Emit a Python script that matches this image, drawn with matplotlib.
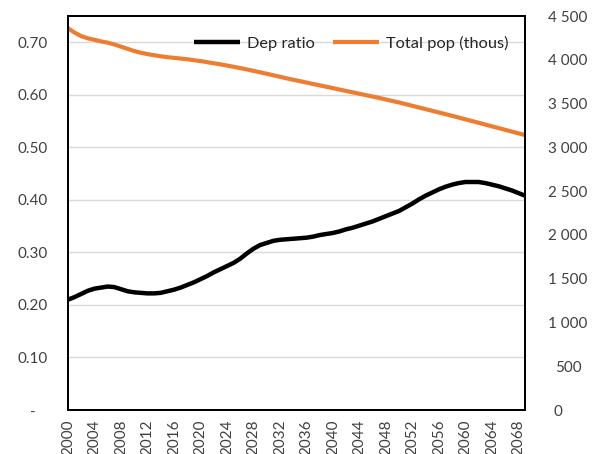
import matplotlib
matplotlib.use("Agg")
import matplotlib.pyplot as plt
from matplotlib.ticker import FixedLocator

plt.rcParams['font.family'] = ['Lato', 'DejaVu Sans']

years = list(range(2000, 2070))

dep_ratio = [
    0.210, 0.215, 0.221, 0.227, 0.231, 0.233, 0.235, 0.234, 0.230, 0.226,
    0.224, 0.223, 0.222, 0.222, 0.223, 0.226, 0.229, 0.233, 0.238, 0.243,
    0.249, 0.255, 0.262, 0.268, 0.274, 0.280, 0.288, 0.298, 0.307, 0.314,
    0.318, 0.322, 0.324, 0.325, 0.326, 0.327, 0.328, 0.330, 0.333, 0.335,
    0.337, 0.340, 0.344, 0.347, 0.351, 0.355, 0.359, 0.364, 0.369, 0.374,
    0.379, 0.386, 0.393, 0.401, 0.408, 0.414, 0.420, 0.425, 0.429, 0.432,
    0.434, 0.434, 0.434, 0.432, 0.429, 0.426, 0.422, 0.418, 0.413, 0.408,
]

total_pop = [
    4360, 4310, 4270, 4245, 4228, 4210, 4195, 4175, 4150, 4125,
    4100, 4080, 4065, 4052, 4040, 4030, 4022, 4014, 4006, 3995,
    3985, 3973, 3960, 3948, 3934, 3920, 3905, 3890, 3873, 3857,
    3840, 3823, 3806, 3788, 3772, 3756, 3740, 3724, 3708, 3692,
    3676, 3660, 3644, 3628, 3612, 3596, 3580, 3564, 3546, 3529,
    3512, 3493, 3474, 3455, 3436, 3417, 3398, 3379, 3360, 3340,
    3320, 3300, 3280, 3260, 3240, 3220, 3200, 3180, 3160, 3140,
]

left_ticks = [0, 0.1, 0.2, 0.3, 0.4, 0.5, 0.6, 0.7]
left_labels = ['-   ', '0.10', '0.20', '0.30', '0.40', '0.50', '0.60', '0.70']
right_ticks = [0, 500, 1000, 1500, 2000, 2500, 3000, 3500, 4000, 4500]
right_labels = ['0     ', '500', '1 000', '1 500', '2 000', '2 500', '3 000', '3 500', '4 000', '4 500']
x_ticks = list(range(2000, 2070, 4))

fig = plt.figure(figsize=(5.97, 4.54), dpi=100)
ax = fig.add_axes([68/597, 1-410/454, (525-68)/597, (410-16)/454])
ax2 = ax.twinx()

text_color = '#404040'
fs = 11
l1, = ax.plot(years, dep_ratio, color='black', lw=3.2, solid_capstyle='butt', label='Dep ratio')
l2, = ax2.plot(years, total_pop, color='#ED7D31', lw=3.0, solid_capstyle='butt', label='Total pop (thous)')

ax.set_xlim(2000, 2069)
ax.set_ylim(0, 0.75)
ax2.set_ylim(0, 4500)

ax.yaxis.set_major_locator(FixedLocator(left_ticks))
ax.set_yticklabels(left_labels)
ax2.yaxis.set_major_locator(FixedLocator(right_ticks))
ax2.set_yticklabels(right_labels)
ax.set_xticks(x_ticks)
ax.set_xticklabels([str(y) for y in x_ticks], rotation=90)

ax.grid(axis='y', color='#d9d9d9', lw=1.0)
ax.set_axisbelow(True)

ax.tick_params(axis='y', length=0, pad=14.5, labelsize=fs, labelcolor=text_color)
ax.tick_params(axis='x', length=0, pad=7, labelsize=fs, labelcolor=text_color)
ax2.tick_params(axis='y', length=0, pad=31, labelsize=fs, labelcolor=text_color)
for t in ax2.get_yticklabels():
    t.set_horizontalalignment('center')

for a in (ax, ax2):
    for s in a.spines.values():
        s.set_color('black')
        s.set_linewidth(1.4)

leg = ax2.legend(handles=[l1, l2], loc='center', ncol=2, frameon=False,
                 bbox_to_anchor=(351.5/597, 1-43/454), bbox_transform=fig.transFigure,
                 fontsize=11.8, handlelength=2.8, handletextpad=0.45, columnspacing=1.1,
                 labelcolor='#262626')

fig.savefig('out.png', dpi=100)
